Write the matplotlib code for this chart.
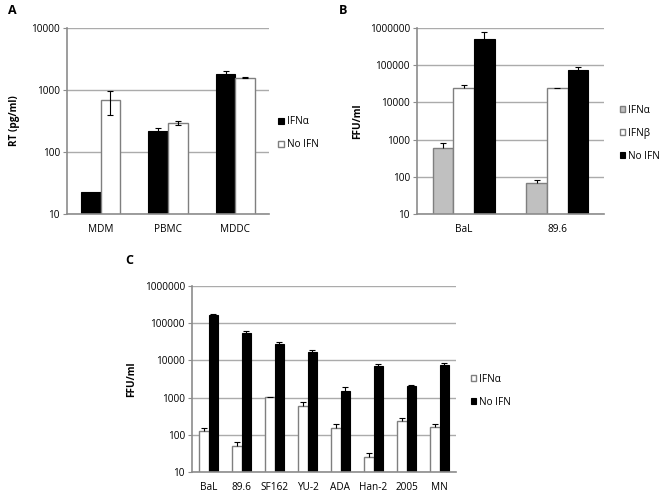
import matplotlib

matplotlib.use("Agg")
import matplotlib.pyplot as plt
import numpy as np

plt.rcParams["font.family"] = ["Open Sans", "DejaVu Sans"]

# Panel A data
A_CATS = ["MDM", "PBMC", "MDDC"]
A_IFNA = [23, 217, 1830]
A_IFNA_ERR = [0, 28, 220]
A_NOIFN = [690, 296, 1590]
A_NOIFN_ERR = [290, 26, 20]

# Panel B data
B_CATS = ["BaL", "89.6"]
B_IFNA = [598, 68]
B_IFNA_ERR = [200, 13]
B_IFNB = [23700, 23700]
B_IFNB_ERR = [4800, 1300]
B_NOIFN = [518000, 76500]
B_NOIFN_ERR = [248000, 14500]

# Panel C data
C_CATS = ["BaL", "89.6", "SF162", "YU-2", "ADA", "Han-2", "2005", "MN"]
C_IFNA = [123, 50, 1040, 586, 154, 25, 232, 160]
C_IFNA_ERR = [27, 13, 20, 164, 39, 7, 59, 33]
C_NOIFN = [164000, 55000, 27000, 17000, 1540, 7050, 2050, 7350]
C_NOIFN_ERR = [14000, 6000, 4600, 1500, 390, 750, 100, 1150]

GRID = "#ababab"
SPINE = "#8c8c8c"
EDGE_GRAY = "#7f7f7f"
LIGHT_GRAY = "#c0c0c0"
FS = 7.2

fig = plt.figure(figsize=(6.62, 4.96), dpi=100)


def style_axes(ax, ymax, cats):
    ax.set_yscale("log")
    ax.set_ylim(10, ymax)
    ax.set_xlim(-0.5, len(cats) - 0.5)
    ax.set_xticks(np.arange(len(cats)))
    ax.set_xticklabels(cats, fontsize=FS)
    ax.tick_params(axis="x", length=0, pad=7)
    ax.tick_params(axis="y", which="major", length=3, color=SPINE, labelsize=FS, pad=2)
    ax.tick_params(axis="y", which="minor", length=0)
    ax.yaxis.set_minor_formatter(plt.NullFormatter())
    decades = range(1, int(round(np.log10(ymax))) + 1)
    ax.set_yticks([10 ** k for k in decades])
    ax.set_yticklabels([str(10 ** k) for k in decades])
    ax.grid(True, axis="y", which="major", color=GRID, lw=1.0)
    ax.set_axisbelow(True)
    for s in ["top", "right"]:
        ax.spines[s].set_visible(False)
    for s in ["left", "bottom"]:
        ax.spines[s].set_color(SPINE)
        ax.spines[s].set_linewidth(1.2)


def legend(ax, yanchor, xanchor):
    ax.legend(
        loc="center left",
        bbox_to_anchor=(xanchor, yanchor),
        frameon=False,
        fontsize=FS,
        handlelength=0.55,
        handleheight=0.55,
        handletextpad=0.3,
        labelspacing=1.2,
        borderpad=0,
        borderaxespad=0,
    )


def up_err(ax, x, y, err, both=False):
    # error bar going up only (lower half hidden by the bar), cap at the top
    y = np.asarray(y, float)
    err = np.asarray(err, float)
    lower = err if both else np.zeros_like(err)
    ax.errorbar(x, y, yerr=[lower, err], fmt="none", ecolor="black", elinewidth=0.8,
                capsize=0, zorder=3)
    m = err > 0
    ax.scatter(np.asarray(x)[m], (y + err)[m], marker="_", s=22, color="black",
               linewidths=0.8, zorder=3)
    if both:
        ax.scatter(np.asarray(x)[m], (y - err)[m], marker="_", s=22, color="black",
                   linewidths=0.8, zorder=3)


# ---- Panel A ----
axA = fig.add_axes([67 / 662, 1 - 214 / 496, 202 / 662, 186 / 496])
xA = np.arange(len(A_CATS))
w = 0.29
axA.bar(xA - w / 2, A_IFNA, w, color="black", edgecolor="black", lw=0.8, label="IFNα")
axA.bar(xA + w / 2, A_NOIFN, w, color="white", edgecolor=EDGE_GRAY, lw=1.0, label="No IFN")
up_err(axA, xA - w / 2, A_IFNA, A_IFNA_ERR)
up_err(axA, xA + w / 2, A_NOIFN, A_NOIFN_ERR, both=True)
style_axes(axA, 10000, A_CATS)
axA.set_ylabel("RT (pg/ml)", fontsize=FS, fontweight="bold")
axA.yaxis.set_label_coords(-0.235, 0.5)
legend(axA, 0.435, 1.045)
fig.text(8 / 662, 1 - 11 / 496, "A", fontsize=9, fontweight="bold", va="center")

# ---- Panel B ----
axB = fig.add_axes([417 / 662, 1 - 214 / 496, 187 / 662, 186 / 496])
xB = np.arange(len(B_CATS))
wb = 0.22
axB.bar(xB - wb, B_IFNA, wb, color=LIGHT_GRAY, edgecolor=EDGE_GRAY, lw=1.0, label="IFNα")
axB.bar(xB, B_IFNB, wb, color="white", edgecolor=EDGE_GRAY, lw=1.0, label="IFNβ")
axB.bar(xB + wb, B_NOIFN, wb, color="black", edgecolor="black", lw=0.8, label="No IFN")
up_err(axB, xB - wb, B_IFNA, B_IFNA_ERR)
up_err(axB, xB, B_IFNB, B_IFNB_ERR)
up_err(axB, xB + wb, B_NOIFN, B_NOIFN_ERR)
style_axes(axB, 1000000, B_CATS)
axB.set_ylabel("FFU/ml", fontsize=FS, fontweight="bold")
axB.yaxis.set_label_coords(-0.286, 0.5)
legend(axB, 0.435, 1.085)
fig.text(339 / 662, 1 - 11 / 496, "B", fontsize=9, fontweight="bold", va="center")

# ---- Panel C ----
axC = fig.add_axes([192 / 662, 1 - 472 / 496, 264 / 662, 186 / 496])
xC = np.arange(len(C_CATS))
axC.bar(xC - w / 2, C_IFNA, w, color="white", edgecolor=EDGE_GRAY, lw=1.0, label="IFNα")
axC.bar(xC + w / 2, C_NOIFN, w, color="black", edgecolor="black", lw=0.8, label="No IFN")
up_err(axC, xC - w / 2, C_IFNA, C_IFNA_ERR)
up_err(axC, xC + w / 2, C_NOIFN, C_NOIFN_ERR)
style_axes(axC, 1000000, C_CATS)
axC.set_ylabel("FFU/ml", fontsize=FS, fontweight="bold")
axC.yaxis.set_label_coords(-0.206, 0.5)
legend(axC, 0.438, 1.055)
fig.text(125 / 662, 1 - 261 / 496, "C", fontsize=9, fontweight="bold", va="center")

fig.savefig("out.png", dpi=100)
